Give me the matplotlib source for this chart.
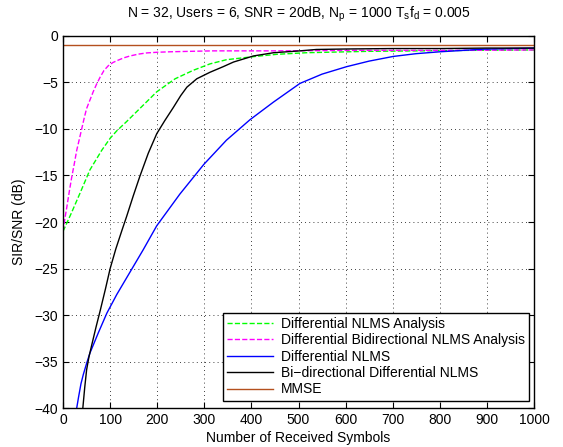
import matplotlib
matplotlib.use("Agg")
import matplotlib.pyplot as plt
import numpy as np

plt.rcParams['font.family'] = ['Liberation Sans', 'DejaVu Sans']
plt.rcParams['mathtext.fontset'] = 'custom'
plt.rcParams['mathtext.rm'] = 'Liberation Sans'
plt.rcParams['mathtext.it'] = 'Liberation Sans'

# values
green_x = [0, 18, 36, 57, 82, 100, 114, 135, 163, 199, 238, 276, 312, 347, 408, 454, 517, 560, 650, 750, 850, 1000]
green_y = [-21, -19.0, -16.9, -14.4, -12.3, -11.0, -10.2, -9.2, -7.8, -6.0, -4.6, -3.7, -3.0, -2.55, -2.2, -1.97, -1.8, -1.75, -1.65, -1.6, -1.55, -1.5]

magenta_x = [0, 3, 8, 13, 18, 24, 29, 35, 40, 45, 50, 57, 64, 71, 79, 87, 96, 106, 117, 129, 142, 160, 178, 200, 227, 270, 318, 450, 600, 800, 1000]
magenta_y = [-21, -19.9, -18.4, -16.8, -15.3, -13.7, -12.3, -11.0, -9.9, -8.8, -7.8, -6.9, -6.0, -5.2, -4.4, -3.7, -3.2, -2.85, -2.6, -2.35, -2.15, -1.95, -1.82, -1.75, -1.7, -1.65, -1.6, -1.6, -1.55, -1.55, -1.5]

blue_x = [29, 33, 38, 43, 50, 57, 75, 93, 114, 135, 170, 199, 248, 299, 347, 397, 418, 447, 503, 550, 602, 650, 701, 750, 800, 850, 892, 950, 1000]
blue_y = [-40, -38.8, -37.4, -36.4, -35.2, -34.1, -31.9, -29.8, -27.8, -26, -23, -20.4, -17, -13.8, -11.2, -9.0, -8.2, -7.1, -5.1, -4.1, -3.3, -2.7, -2.2, -1.9, -1.7, -1.55, -1.42, -1.35, -1.3]

black_x = [42, 46, 50, 55, 61, 70, 79, 90, 100, 112, 125, 135, 149, 163, 181, 199, 216, 234, 250, 263, 284, 312, 340, 362, 404, 447, 503, 538, 600, 700, 800, 900, 1000]
black_y = [-40, -37.8, -35.9, -34.5, -33.2, -31.3, -29.5, -27.2, -25, -22.9, -20.9, -19.4, -17.2, -15.1, -12.6, -10.5, -9.1, -7.7, -6.4, -5.5, -4.6, -3.9, -3.3, -2.8, -2.15, -1.8, -1.6, -1.45, -1.4, -1.35, -1.35, -1.3, -1.3]

mmse_x = [0, 1000]
mmse_y = [-1, -1]

labels = ["Differential NLMS Analysis", "Differential Bidirectional NLMS Analysis",
          "Differential NLMS", "Bi\u2212directional Differential NLMS", "MMSE"]

fig = plt.figure(figsize=(5.63, 4.47), dpi=100)
ax = fig.add_axes([0.112, 0.0872, 0.8365, 0.8323])

ax.plot(green_x, green_y, color=(0, 1, 0), ls='--', lw=1.0, label=labels[0])
ax.plot(magenta_x, magenta_y, color=(1, 0, 1), ls='--', lw=1.0, label=labels[1])
ax.plot(blue_x, blue_y, color=(0, 0, 1), ls='-', lw=1.0, label=labels[2])
ax.plot(black_x, black_y, color='black', ls='-', lw=1.0, label=labels[3])
ax.plot(mmse_x, mmse_y, color='#b4501e', ls='-', lw=1.0, label=labels[4])

ax.set_xlim(0, 1000)
ax.set_ylim(-40, 0)
ax.set_xticks(np.arange(0, 1001, 100))
ax.set_yticks(np.arange(-40, 1, 5))
ax.grid(True, color='black', ls=(0, (1, 4)), lw=0.6)
ax.tick_params(direction='in', top=True, right=True, labelsize=10, length=4)
for s in ax.spines.values():
    s.set_linewidth(1.0)

ax.set_xlabel("Number of Received Symbols", fontsize=10, labelpad=3)
ax.set_ylabel("SIR/SNR (dB)", fontsize=10, labelpad=6)
ax.set_title(r"N = 32, Users = 6, SNR = 20dB, N$_\mathrm{p}$ = 1000 T$_\mathrm{s}$f$_\mathrm{d}$ = 0.005",
             fontsize=10, pad=13)

leg = ax.legend(loc='lower right', bbox_to_anchor=(0.99, 0.02), fontsize=10, handlelength=3.3,
                fancybox=False, framealpha=1, edgecolor='black', borderpad=0.3,
                labelspacing=0.17, handletextpad=0.6, borderaxespad=0)
leg.get_frame().set_linewidth(1.0)

fig.savefig("out.png", dpi=100)
